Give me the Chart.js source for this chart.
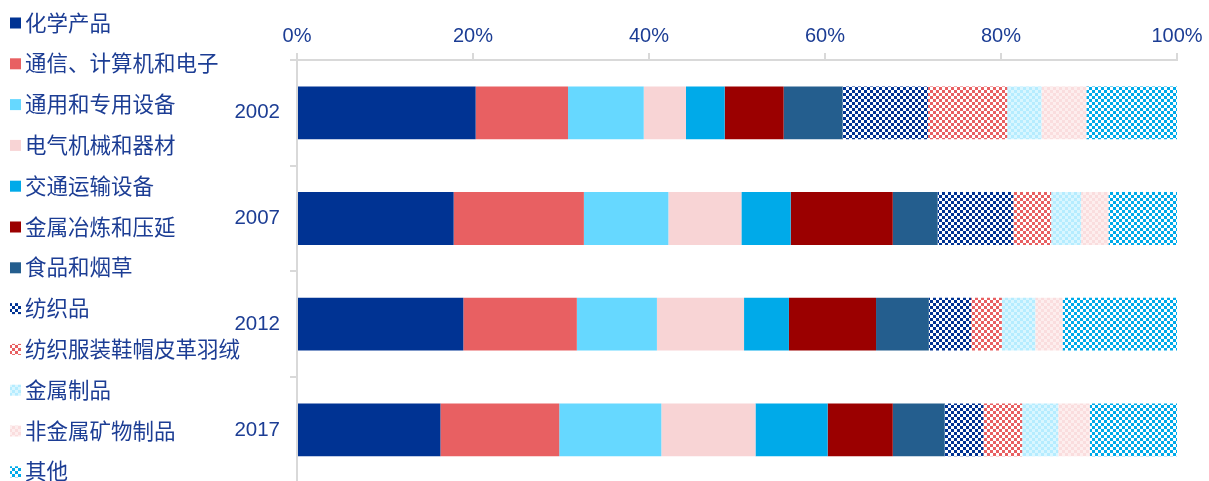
<!DOCTYPE html>
<html>
<head>
<meta charset="utf-8">
<script src="https://cdn.jsdelivr.net/npm/chart.js@4.4.1/dist/chart.umd.min.js"></script>
<style>
html,body{margin:0;padding:0;background:#fff;overflow:hidden;}
#wrap{position:relative;width:1209px;height:481px;overflow:hidden;}
</style>
</head>
<body>
<div id="wrap"><canvas id="c" width="1209" height="505"></canvas></div>
<script>
// ---- data ----
const years = ['2002', '2007', '2012', '2017'];
const seriesNames = ['化学产品', '通信、计算机和电子', '通用和专用设备', '电气机械和器材', '交通运输设备', '金属冶炼和压延', '食品和烟草', '纺织品', '纺织服装鞋帽皮革羽绒', '金属制品', '非金属矿物制品', '其他'];
const chem         = [20.3, 17.8, 18.9, 16.3];
const telecom      = [10.5, 14.8, 12.9, 13.5];
const generalEquip = [8.6, 9.6, 9.1, 11.6];
const electrical   = [4.8, 8.3, 9.9, 10.7];
const transport    = [4.4, 5.6, 5.1, 8.2];
const metalSmelt   = [6.7, 11.6, 9.9, 7.4];
const food         = [6.7, 5.1, 6.0, 5.9];
const textile      = [9.7, 8.6, 4.8, 4.4];
const apparel      = [9.0, 4.3, 3.5, 4.4];
const metalProd    = [3.9, 3.4, 3.8, 4.1];
const nonMetal     = [5.1, 3.1, 3.1, 3.6];
const other        = [10.3, 7.8, 13.0, 9.9];
const xTicks = [0, 20, 40, 60, 80, 100];

const seriesValues = [chem, telecom, generalEquip, electrical, transport, metalSmelt, food, textile, apparel, metalProd, nonMetal, other];

// ---- styles ----
function checker(c1, c2, s) {
  const cv = document.createElement('canvas');
  cv.width = s * 2; cv.height = s * 2;
  const g = cv.getContext('2d');
  g.fillStyle = c2; g.fillRect(0, 0, s * 2, s * 2);
  g.fillStyle = c1; g.fillRect(0, 0, s, s); g.fillRect(s, s, s, s);
  return g.createPattern(cv, 'repeat');
}
const ctx = document.getElementById('c').getContext('2d');
const fills = [
  '#003393', '#E86062', '#66D8FF', '#F8D4D5', '#00AAE9', '#9B0000', '#245E8E',
  checker('#003393', '#ffffff', 3),
  checker('#E86062', '#ffffff', 3),
  checker('#B5ECFF', '#D9F6FF', 3),
  checker('#FADDDE', '#FDEEEE', 3),
  checker('#00AAE9', '#ffffff', 3)
];
const textColor = '#1c3d94';
const axisColor = '#d9d9d9';

const datasets = seriesNames.map((n, i) => ({
  label: n,
  data: seriesValues[i],
  backgroundColor: fills[i],
  borderWidth: 0,
  barPercentage: 0.5,
  categoryPercentage: 1.0
}));

const legendPlugin = {
  id: 'sideLegend',
  afterDraw(chart) {
    const c = chart.ctx;
    c.save();
    c.font = '21.5px "Noto Sans CJK SC", "Noto Sans", sans-serif';
    c.textBaseline = 'middle';
    c.textAlign = 'left';
    seriesNames.forEach((n, i) => {
      const cy = 22.5 + i * 40.8;
      c.fillStyle = fills[i];
      c.fillRect(10, cy - 5, 11, 11);
      c.fillStyle = textColor;
      c.fillText(n, 25, cy);
    });
    c.restore();
  }
};

new Chart(ctx, {
  type: 'bar',
  data: { labels: years, datasets },
  options: {
    indexAxis: 'y',
    responsive: false,
    animation: false,
    layout: { padding: { left: 0, right: 32, top: 0, bottom: 0 } },
    plugins: { legend: { display: false }, tooltip: { enabled: false } },
    scales: {
      x: {
        position: 'top',
        stacked: true,
        min: 0, max: 100,
        afterFit(s) { s.height = 60; },
        afterBuildTicks(s) { s.ticks = xTicks.map(v => ({ value: v })); },
        ticks: {
          callback: v => v + '%',
          color: textColor,
          font: { family: '"Liberation Sans", Arial, sans-serif', size: 20 },
          padding: 5,
          maxRotation: 0
        },
        grid: { drawOnChartArea: false, drawTicks: true, tickLength: 7, color: axisColor, lineWidth: 2 },
        border: { display: true, color: axisColor, width: 2 }
      },
      y: {
        stacked: true,
        afterFit(s) { s.width = 297; },
        ticks: {
          color: textColor,
          font: { family: '"Liberation Sans", Arial, sans-serif', size: 20.5 },
          padding: 10
        },
        grid: { drawOnChartArea: false, drawTicks: true, tickLength: 7, color: axisColor, lineWidth: 2, offset: true },
        border: { display: true, color: axisColor, width: 2 }
      }
    }
  },
  plugins: [legendPlugin]
});
</script>
</body>
</html>
